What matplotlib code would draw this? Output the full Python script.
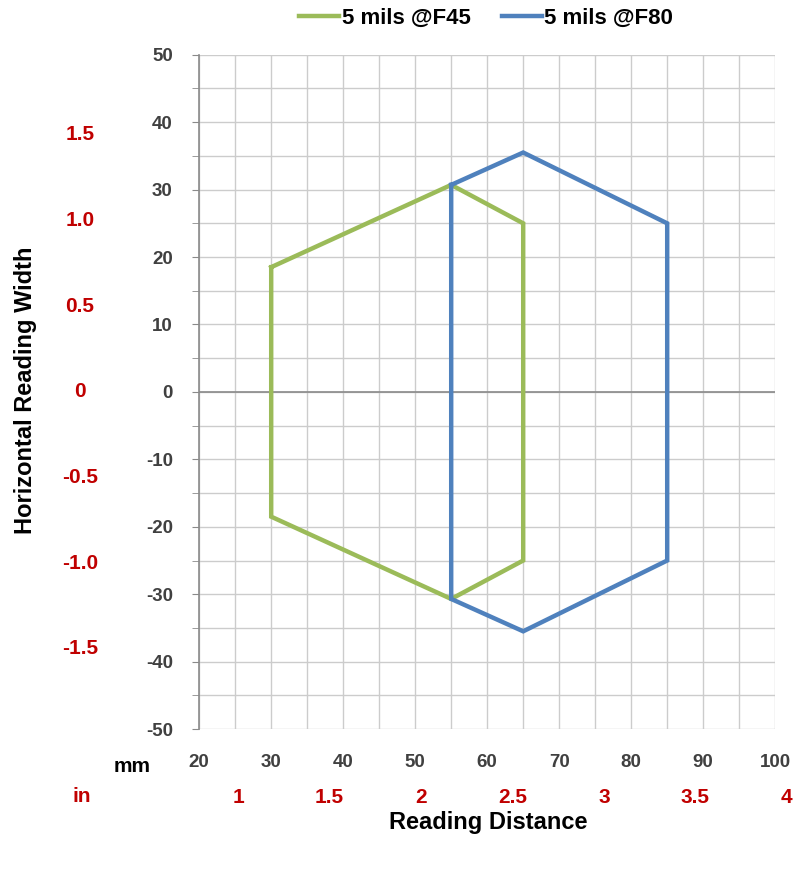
import numpy as np
import matplotlib.pyplot as plt
from matplotlib.ticker import FuncFormatter

# outline of the reading zone, mm
f45_x = [30, 55, 65, 65, 55, 30, 30]
f45_y = [18.5, 30.7, 25, -25, -30.7, -18.5, 18.5]
f80_x = [55, 65, 85, 85, 65, 55, 55]
f80_y = [30.7, 35.5, 25, -25, -35.5, -30.7, 30.7]

x_mm_ticks = [20, 30, 40, 50, 60, 70, 80, 90, 100]
y_mm_ticks = [50, 40, 30, 20, 10, 0, -10, -20, -30, -40, -50]
x_in_labels = ['1', '1.5', '2', '2.5', '3', '3.5', '4']
x_in_values = [1, 1.5, 2, 2.5, 3, 3.5, 4]
y_in_labels = ['1.5', '1.0', '0.5', '0', '-0.5', '-1.0', '-1.5']
y_in_values = [1.5, 1.0, 0.5, 0, -0.5, -1.0, -1.5]

plt.rcParams['font.family'] = ['Liberation Sans', 'DejaVu Sans']

fig = plt.figure(figsize=(8, 8.69), dpi=100)
ax = fig.add_axes([0.249, 0.161, 0.72, 0.776])

green = '#9BBB59'
blue = '#4F81BD'
red = '#C00000'

ax.plot(f45_x, f45_y, color=green, lw=3.2, label='5 mils @F45', solid_joinstyle='miter', zorder=3)
ax.plot(f80_x, f80_y, color=blue, lw=3.2, label='5 mils @F80', solid_joinstyle='miter', zorder=4)

ax.set_xlim(20, 100)
ax.set_ylim(-50, 50)
ax.set_xticks(x_mm_ticks)
ax.set_yticks(y_mm_ticks)
ax.set_xticks(np.arange(20, 101, 5), minor=True)
ax.set_yticks(np.arange(-50, 51, 5), minor=True)
ax.yaxis.set_major_formatter(FuncFormatter(lambda v, p: '%d' % v))
ax.grid(True, which='both', color='#cccccc', lw=1)
ax.set_axisbelow(True)
ax.axhline(0, color='#8a8a8a', lw=1.2, zorder=2)

for s in ['top', 'right', 'bottom']:
    ax.spines[s].set_visible(False)
ax.spines['left'].set_color('#8a8a8a')
ax.spines['left'].set_linewidth(1.2)

ax.tick_params(axis='y', which='both', direction='out', length=5, color='#8a8a8a',
               labelsize=13.5, labelcolor='#404040', pad=14)
ax.tick_params(axis='x', which='both', length=0, labelsize=13.5, labelcolor='#404040', pad=18)
for lab in ax.get_xticklabels() + ax.get_yticklabels():
    lab.set_fontweight('bold')

# inch scales in red
for v, t in zip(x_in_values, x_in_labels):
    ax.text(v * 25.4, -0.102, t, transform=ax.get_xaxis_transform(), color=red,
            fontsize=15, fontweight='bold', ha='center', va='center')
for v, t in zip(y_in_values, y_in_labels):
    ax.text(-0.207, v * 25.4, t, transform=ax.get_yaxis_transform(), color=red,
            fontsize=15, fontweight='bold', ha='center', va='center')

fig.text(132 / 800, 1 - 766 / 869, 'mm', fontsize=15, fontweight='bold', ha='center', va='center')
fig.text(82 / 800, 1 - 797 / 869, 'in', fontsize=15, fontweight='bold', ha='center', va='center', color=red)

fig.text(488 / 800, 1 - 823 / 869, 'Reading Distance', fontsize=17, fontweight='bold',
         ha='center', va='center')
fig.text(26 / 800, 1 - 390 / 869, 'Horizontal Reading Width', fontsize=17, fontweight='bold',
         ha='center', va='center', rotation=90)

fig.legend(loc='center', bbox_to_anchor=(486 / 800, 1 - 18 / 869), ncol=2, frameon=False,
           prop={'size': 16, 'weight': 'bold'}, handlelength=1.8, handletextpad=0.1,
           columnspacing=1.4)

fig.savefig('out.png', dpi=100)
